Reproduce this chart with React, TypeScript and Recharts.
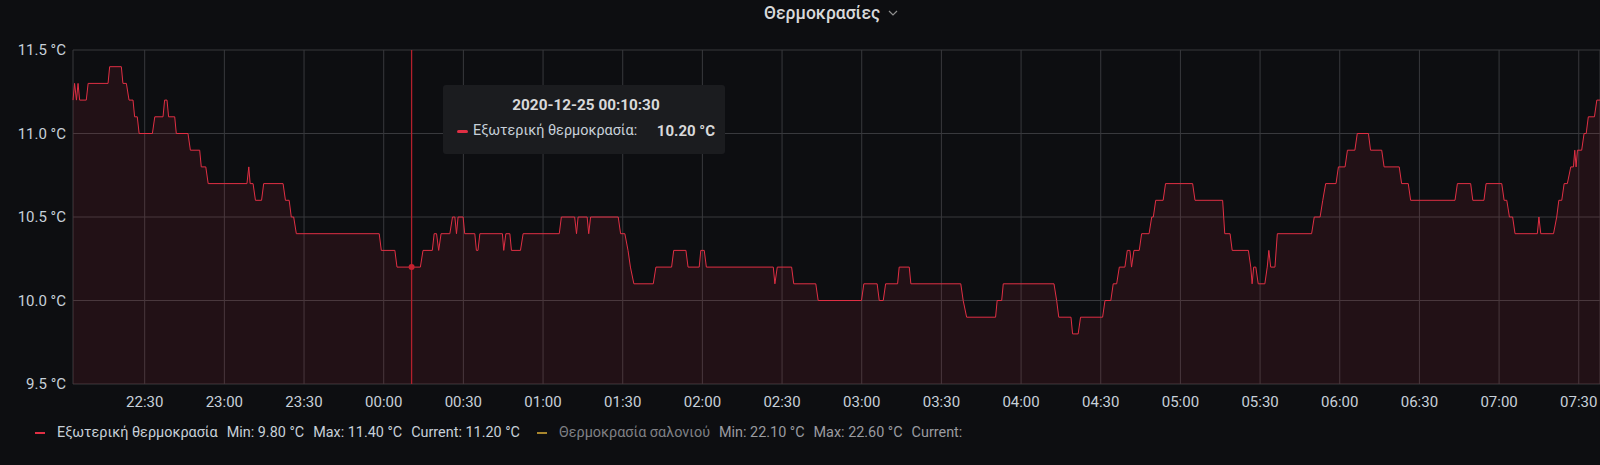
import React from "react";
import { AreaChart, Area, XAxis, YAxis, CartesianGrid, Tooltip } from "recharts";

// minutes after 22:00 (2020-12-24)
const minutes = [
  3.0, 3.6, 4.3, 4.9, 5.5, 8.0, 8.7, 16.2, 16.8, 21.2,
  21.8, 23.1, 24.1, 25.6, 26.2, 27.2, 27.9, 32.9, 33.8, 36.9,
  37.5, 38.4, 39.0, 41.3, 41.9, 46.3, 47.2, 50.7, 51.3, 53.0,
  53.9, 68.5, 69.2, 69.7, 70.8, 71.7, 74.0, 74.8, 82.1, 83.0,
  84.4, 85.2, 86.1, 87.1, 118.3, 119.1, 124.2, 125.0, 130.5, 133.8,
  134.8, 138.3, 139.0, 139.9, 140.7, 141.6, 144.9, 145.9, 146.8, 147.4,
  148.0, 149.9, 150.5, 154.3, 154.9, 155.5, 156.2, 164.7, 165.2, 166.0,
  167.5, 168.1, 171.5, 172.5, 186.1, 186.9, 191.9, 192.6, 193.2, 196.6,
  197.2, 197.9, 208.3, 209.2, 210.8, 212.0, 212.9, 214.2, 221.5, 222.5,
  228.4, 229.2, 233.8, 234.6, 238.8, 239.4, 240.7, 241.5, 266.7, 267.3,
  268.2, 273.6, 274.4, 282.7, 283.6, 299.9, 300.8, 305.8, 306.6, 308.1,
  309.0, 313.5, 314.1, 317.9, 318.5, 337.3, 338.2, 339.5, 350.4, 351.0,
  352.7, 353.3, 372.4, 373.4, 374.2, 378.8, 379.4, 381.5, 382.4, 390.7,
  391.6, 393.8, 394.7, 396.0, 397.0, 399.1, 400.0, 401.0, 401.6, 402.5,
  404.5, 405.4, 408.2, 409.2, 409.8, 410.7, 413.5, 414.4, 424.6, 425.5,
  435.9, 436.7, 438.7, 439.5, 445.6, 446.5, 447.0, 447.6, 448.4, 449.3,
  451.8, 452.7, 453.3, 454.0, 455.6, 456.5, 469.4, 470.4, 472.6, 473.6,
  474.7, 478.6, 479.5, 482.0, 482.9, 485.7, 486.6, 490.8, 491.6, 495.8,
  496.7, 502.4, 503.3, 505.8, 506.7, 523.4, 524.3, 529.3, 530.1, 534.3,
  535.1, 541.0, 541.9, 542.9, 543.9, 545.1, 546.0, 554.4, 555.0, 555.7,
  560.5, 561.7, 562.5, 563.6, 564.5, 565.7, 567.0, 568.0, 568.5, 569.0,
  569.5, 571.1, 572.0, 572.8, 573.6, 575.9, 576.8, 578.0,
];

const outdoorTemp = [
  11.2, 11.3, 11.2, 11.3, 11.2, 11.2, 11.3, 11.3, 11.4, 11.4,
  11.3, 11.3, 11.2, 11.2, 11.1, 11.1, 11.0, 11.0, 11.1, 11.1,
  11.2, 11.2, 11.1, 11.1, 11.0, 11.0, 10.9, 10.9, 10.8, 10.8,
  10.7, 10.7, 10.8, 10.7, 10.7, 10.6, 10.6, 10.7, 10.7, 10.6,
  10.6, 10.5, 10.5, 10.4, 10.4, 10.3, 10.3, 10.2, 10.2, 10.2,
  10.3, 10.3, 10.4, 10.4, 10.3, 10.4, 10.4, 10.5, 10.5, 10.4,
  10.5, 10.5, 10.4, 10.4, 10.3, 10.3, 10.4, 10.4, 10.3, 10.4,
  10.4, 10.3, 10.3, 10.4, 10.4, 10.5, 10.5, 10.4, 10.5, 10.5,
  10.4, 10.5, 10.5, 10.4, 10.4, 10.3, 10.2, 10.1, 10.1, 10.2,
  10.2, 10.3, 10.3, 10.2, 10.2, 10.3, 10.3, 10.2, 10.2, 10.1,
  10.2, 10.2, 10.1, 10.1, 10.0, 10.0, 10.1, 10.1, 10.0, 10.0,
  10.1, 10.1, 10.2, 10.2, 10.1, 10.1, 10.0, 9.9, 9.9, 10.0,
  10.0, 10.1, 10.1, 10.0, 9.9, 9.9, 9.8, 9.8, 9.9, 9.9,
  10.0, 10.0, 10.1, 10.1, 10.2, 10.2, 10.3, 10.3, 10.2, 10.3,
  10.3, 10.4, 10.4, 10.5, 10.5, 10.6, 10.6, 10.7, 10.7, 10.6,
  10.6, 10.4, 10.4, 10.3, 10.3, 10.2, 10.1, 10.2, 10.2, 10.1,
  10.1, 10.2, 10.3, 10.2, 10.2, 10.4, 10.4, 10.5, 10.5, 10.6,
  10.7, 10.7, 10.8, 10.8, 10.9, 10.9, 11.0, 11.0, 10.9, 10.9,
  10.8, 10.8, 10.7, 10.7, 10.6, 10.6, 10.7, 10.7, 10.6, 10.6,
  10.7, 10.7, 10.6, 10.6, 10.5, 10.5, 10.4, 10.4, 10.5, 10.4,
  10.4, 10.5, 10.6, 10.6, 10.7, 10.7, 10.8, 10.8, 10.9, 10.8,
  10.9, 10.9, 11.0, 11.0, 11.1, 11.1, 11.2, 11.2,
];

const xTicks = [30, 60, 90, 120, 150, 180, 210, 240, 270, 300, 330, 360, 390, 420, 450, 480, 510, 540, 570];
const yTicks = [9.5, 10, 10.5, 11, 11.5];
const seriesNames = ["Εξωτερική θερμοκρασία", "Θερμοκρασία σαλονιού"];
const seriesColors = ["#E02F44", "#EAB839"];
const livingRoomMinMax = [22.1, 22.6];
const hoverMinute = 130.5;

const BG = "#0d0e11";
const FONT = "Roboto, 'Noto Sans', sans-serif";
const TEXT = "#c7d0d9";

const data = minutes.map((t, i) => ({ t, v: outdoorTemp[i] }));
const hoverIndex = minutes.indexOf(hoverMinute);

const pad = (n: number) => String(n).padStart(2, "0");
const clock = (t: number, withSec = false) => {
  const secs = Math.round((22 * 60 + t) * 60);
  const s = secs % 86400;
  const hh = pad(Math.floor(s / 3600));
  const mm = pad(Math.floor((s % 3600) / 60));
  const ss = pad(s % 60);
  return withSec ? `${hh}:${mm}:${ss}` : `${hh}:${mm}`;
};
const stamp = (t: number) => {
  const day = 22 * 60 + t >= 1440 ? "2020-12-25" : "2020-12-24";
  return `${day} ${clock(t, true)}`;
};

const HoverBox = ({ active, payload }: any) => {
  if (!active || !payload || !payload.length) return null;
  const p = payload[0].payload;
  return (
    <div
      style={{
        width: 282,
        height: 69,
        boxSizing: "border-box",
        background: "#1b1c1f",
        borderRadius: 3,
        padding: "11px 10px 0 14px",
        fontFamily: FONT,
        color: "#d8d9da",
      }}
    >
      <div style={{ textAlign: "center", fontWeight: 700, fontSize: 15.3, lineHeight: "18px" }}>
        {stamp(p.t)}
      </div>
      <div style={{ display: "flex", alignItems: "center", marginTop: 8, lineHeight: "18px" }}>
        <span style={{ width: 11, height: 3, borderRadius: 2, background: seriesColors[0], marginRight: 5 }} />
        <span style={{ color: TEXT, fontSize: 14.4 }}>{seriesNames[0]}:</span>
        <span style={{ marginLeft: "auto", fontWeight: 700, fontSize: 15 }}>{p.v.toFixed(2)} °C</span>
      </div>
    </div>
  );
};

const App = () => {
  const minV = Math.min(...outdoorTemp);
  const maxV = Math.max(...outdoorTemp);
  const current = outdoorTemp[outdoorTemp.length - 1];
  const stat = { marginLeft: 9 };

  return (
    <div
      style={{
        position: "absolute",
        left: 0,
        top: 0,
        width: 1600,
        height: 465,
        background: BG,
        overflow: "hidden",
        fontFamily: FONT,
      }}
    >
      <div
        style={{
          position: "absolute",
          left: 764,
          top: 3,
          fontSize: 17.5,
          lineHeight: "20px",
          fontWeight: 500,
          color: "#d8d9da",
          display: "flex",
          alignItems: "center",
        }}
      >
        Θερμοκρασίες
        <svg width="10" height="6" style={{ marginLeft: 8 }}>
          <polyline points="1,1 5,5 9,1" fill="none" stroke="#8e8e8e" strokeWidth="1.2" />
        </svg>
      </div>

      <AreaChart
        width={1600}
        height={465}
        data={data}
        margin={{ top: 50, right: 0, bottom: 51, left: 0 }}
        style={{ position: "absolute", left: 0, top: 0 }}
      >
        <CartesianGrid stroke="#38393d" strokeWidth={1} />
        <XAxis
          dataKey="t"
          type="number"
          domain={[3, 578]}
          ticks={xTicks}
          tickFormatter={(t: number) => clock(t)}
          height={30}
          axisLine={false}
          tickLine={false}
          tickMargin={6}
          tick={{ fill: TEXT, fontSize: 15, fontFamily: FONT }}
        />
        <YAxis
          type="number"
          domain={[9.5, 11.5]}
          ticks={yTicks}
          width={73}
          tickFormatter={(v: number) => `${v.toFixed(1)} °C`}
          axisLine={false}
          tickLine={false}
          tickMargin={1}
          tick={{ fill: TEXT, fontSize: 15, fontFamily: FONT }}
        />
        <Tooltip
          defaultIndex={hoverIndex}
          active={true}
          position={{ x: 443, y: 85 }}
          content={<HoverBox />}
          cursor={{ stroke: "#b3202c", strokeWidth: 1.3 }}
          isAnimationActive={false}
        />
        <Area
          type="linear"
          dataKey="v"
          stroke={seriesColors[0]}
          strokeWidth={1}
          fill={seriesColors[0]}
          fillOpacity={0.1}
          dot={false}
          activeDot={{ r: 3, fill: "#c4222f", stroke: "none" }}
          isAnimationActive={false}
        />
      </AreaChart>

      <div
        style={{
          position: "absolute",
          left: 35,
          top: 424,
          display: "flex",
          alignItems: "center",
          fontSize: 14.4,
          lineHeight: "18px",
          color: TEXT,
          whiteSpace: "nowrap",
        }}
      >
        <span style={{ width: 10, height: 2, background: seriesColors[0], marginRight: 12 }} />
        <span>{seriesNames[0]}</span>
        <span style={stat}>Min: {minV.toFixed(2)} °C</span>
        <span style={stat}>Max: {maxV.toFixed(2)} °C</span>
        <span style={stat}>Current: {current.toFixed(2)} °C</span>
        <span style={{ width: 10, height: 2, background: seriesColors[1], opacity: 0.7, marginLeft: 17, marginRight: 12 }} />
        <span style={{ color: "#7f8085" }}>{seriesNames[1]}</span>
        <span style={{ ...stat, color: "#9a9ba0" }}>Min: {livingRoomMinMax[0].toFixed(2)} °C</span>
        <span style={{ ...stat, color: "#9a9ba0" }}>Max: {livingRoomMinMax[1].toFixed(2)} °C</span>
        <span style={{ ...stat, color: "#9a9ba0" }}>Current:</span>
      </div>
    </div>
  );
};

export default App;
